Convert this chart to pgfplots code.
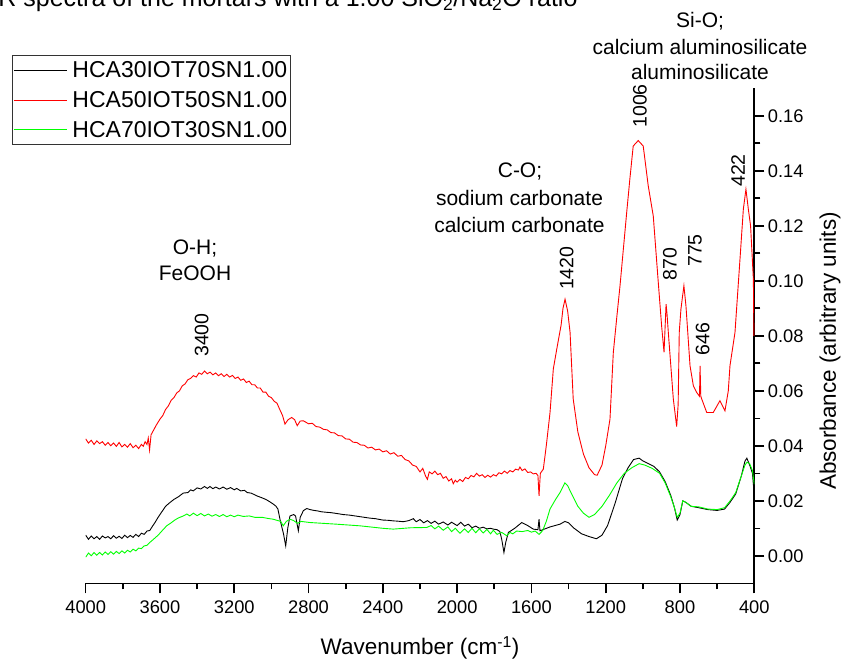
\documentclass[border=0pt]{standalone}
\usepackage{fontspec}
\setmainfont{Liberation Sans}
\usepackage{pgfplots}
\pgfplotsset{compat=1.18}
\usepackage{pgfplotstable}

\newcommand\fA{\fontsize{21}{25}\selectfont}
\newcommand\fB{\fontsize{19.5}{22}\selectfont}
\newcommand\fL{\fontsize{22.5}{26}\selectfont}
\newcommand\fT{\fontsize{18.3}{21}\selectfont}

\pgfplotstableread{
wn y
4000 0.0425
3985 0.0410
3970 0.0420
3955 0.0405
3940 0.0418
3925 0.0408
3910 0.0415
3895 0.0402
3880 0.0412
3865 0.0400
3850 0.0410
3835 0.0398
3820 0.0412
3805 0.0396
3790 0.0405
3775 0.0395
3760 0.0408
3745 0.0393
3730 0.0402
3715 0.0390
3700 0.0405
3690 0.0398
3680 0.0415
3670 0.0405
3663 0.0428
3656 0.0385
3648 0.0440
3640 0.0450
3620 0.0475
3600 0.0497
3585 0.0510
3570 0.0532
3555 0.0545
3540 0.0565
3525 0.0575
3510 0.0592
3495 0.0600
3480 0.0618
3465 0.0625
3450 0.0640
3435 0.0645
3420 0.0655
3405 0.0650
3390 0.0665
3375 0.0660
3360 0.0672
3345 0.0662
3330 0.0668
3315 0.0658
3300 0.0665
3285 0.0655
3270 0.0662
3255 0.0652
3240 0.0660
3225 0.0650
3210 0.0656
3195 0.0645
3180 0.0650
3165 0.0638
3150 0.0643
3135 0.0630
3120 0.0635
3105 0.0622
3090 0.0622
3075 0.0610
3060 0.0610
3045 0.0595
3030 0.0595
3015 0.0580
3000 0.0575
2985 0.0562
2970 0.0555
2955 0.0532
2940 0.0510
2927 0.0479
2910 0.0495
2891 0.0503
2875 0.0495
2861 0.0473
2845 0.0490
2828 0.0491
2800 0.0480
2780 0.0482
2760 0.0470
2740 0.0468
2720 0.0460
2700 0.0458
2680 0.0448
2660 0.0447
2640 0.0437
2620 0.0436
2600 0.0425
2580 0.0424
2560 0.0413
2540 0.0412
2520 0.0403
2500 0.0402
2480 0.0392
2460 0.0395
2440 0.0385
2420 0.0388
2400 0.0378
2380 0.0382
2360 0.0370
2340 0.0375
2320 0.0362
2300 0.0365
2280 0.0350
2260 0.0345
2240 0.0330
2220 0.0325
2200 0.0305
2185 0.0318
2170 0.0290
2160 0.0278
2150 0.0305
2135 0.0298
2120 0.0308
2105 0.0295
2090 0.0300
2075 0.0282
2060 0.0288
2045 0.0272
2030 0.0280
2021 0.0262
2010 0.0275
2000 0.0268
1985 0.0278
1970 0.0270
1955 0.0285
1940 0.0280
1925 0.0292
1910 0.0287
1895 0.0300
1880 0.0290
1865 0.0295
1850 0.0285
1835 0.0293
1820 0.0286
1805 0.0295
1790 0.0290
1775 0.0302
1760 0.0298
1745 0.0308
1730 0.0300
1715 0.0310
1700 0.0305
1685 0.0315
1670 0.0312
1662 0.0323
1650 0.0310
1635 0.0316
1620 0.0303
1605 0.0305
1590 0.0298
1575 0.0300
1565 0.0292
1559 0.0218
1552 0.0300
1536 0.0315
1520 0.0400
1500 0.0520
1482 0.0680
1464 0.0750
1440 0.0840
1430 0.0900
1419 0.0933
1405 0.0890
1392 0.0813
1375 0.0570
1350 0.0450
1320 0.0370
1290 0.0320
1260 0.0295
1246 0.0293
1220 0.0330
1200 0.0400
1177 0.0497
1159 0.0740
1140 0.0870
1123 0.0982
1087 0.1249
1070 0.1370
1052 0.1490
1025 0.1510
998 0.1490
971 0.1345
944 0.1236
917 0.0994
899 0.0836
886 0.0740
875 0.0915
870 0.0880
863 0.0813
836 0.0570
818 0.0470
810 0.0550
804 0.0813
795 0.0897
779 0.0982
768 0.0909
746 0.0691
728 0.0618
710 0.0594
695 0.0580
692 0.0691
688 0.0580
683 0.0570
656 0.0521
621 0.0521
585 0.0564
558 0.0527
540 0.0600
531 0.0691
504 0.0812
477 0.1079
459 0.1260
445 0.1333
432 0.1260
420 0.1200
405 0.1006
402 0.0800
}\redtab

\pgfplotstableread{
wn y
4000 0.0075
3985 0.0060
3970 0.0072
3955 0.0062
3940 0.0070
3925 0.0060
3910 0.0072
3895 0.0065
3880 0.0070
3865 0.0062
3850 0.0073
3835 0.0064
3820 0.0071
3805 0.0063
3790 0.0075
3775 0.0066
3760 0.0074
3745 0.0067
3730 0.0078
3715 0.0070
3700 0.0082
3685 0.0078
3670 0.0090
3655 0.0092
3640 0.0108
3627 0.0121
3610 0.0140
3590 0.0160
3570 0.0180
3546 0.0194
3525 0.0205
3500 0.0215
3475 0.0228
3450 0.0230
3435 0.0240
3421 0.0236
3400 0.0247
3380 0.0243
3360 0.0252
3345 0.0245
3331 0.0252
3315 0.0244
3300 0.0250
3280 0.0243
3260 0.0250
3240 0.0242
3220 0.0248
3200 0.0240
3187 0.0245
3165 0.0236
3145 0.0238
3130 0.0230
3110 0.0228
3090 0.0222
3079 0.0218
3055 0.0212
3030 0.0205
3010 0.0197
2990 0.0188
2975 0.0180
2965 0.0170
2954 0.0133
2935 0.0080
2923 0.0036
2912 0.0100
2900 0.0145
2880 0.0150
2870 0.0145
2855 0.0091
2845 0.0140
2828 0.0164
2810 0.0172
2792 0.0168
2770 0.0165
2750 0.0163
2730 0.0160
2700 0.0158
2680 0.0157
2650 0.0154
2613 0.0150
2580 0.0148
2550 0.0145
2520 0.0142
2500 0.0140
2470 0.0137
2440 0.0135
2400 0.0130
2370 0.0129
2344 0.0127
2320 0.0126
2290 0.0124
2260 0.0128
2236 0.0135
2220 0.0124
2200 0.0132
2180 0.0120
2160 0.0128
2140 0.0118
2120 0.0126
2100 0.0115
2075 0.0123
2050 0.0112
2030 0.0122
2000 0.0110
1980 0.0122
1960 0.0108
1940 0.0115
1920 0.0102
1900 0.0108
1880 0.0100
1860 0.0104
1840 0.0098
1820 0.0100
1805 0.0097
1785 0.0095
1770 0.0088
1760 0.0060
1748 0.0012
1738 0.0050
1724 0.0085
1690 0.0100
1652 0.0121
1620 0.0110
1590 0.0097
1565 0.0095
1559 0.0133
1554 0.0091
1500 0.0105
1446 0.0115
1420 0.0125
1400 0.0120
1370 0.0100
1330 0.0080
1290 0.0070
1250 0.0062
1220 0.0075
1190 0.0110
1150 0.0190
1110 0.0280
1080 0.0320
1050 0.0350
1020 0.0355
1000 0.0345
970 0.0335
940 0.0325
910 0.0305
880 0.0270
850 0.0220
830 0.0175
815 0.0130
800 0.0150
785 0.0200
770 0.0195
740 0.0180
700 0.0175
650 0.0168
600 0.0165
560 0.0170
530 0.0195
500 0.0225
470 0.0290
450 0.0345
440 0.0355
425 0.0330
410 0.0300
400 0.0220
}\blacktab

\pgfplotstableread{
wn y
4000 -0.0005
3985 0.0010
3970 0.0000
3955 0.0012
3940 0.0002
3925 0.0012
3910 0.0003
3895 0.0014
3880 0.0005
3865 0.0015
3850 0.0006
3835 0.0016
3820 0.0008
3805 0.0018
3790 0.0010
3775 0.0020
3760 0.0014
3745 0.0024
3730 0.0018
3715 0.0028
3700 0.0026
3685 0.0036
3670 0.0038
3654 0.0049
3635 0.0060
3610 0.0075
3590 0.0090
3564 0.0109
3540 0.0120
3520 0.0130
3500 0.0138
3474 0.0145
3455 0.0152
3440 0.0145
3420 0.0155
3400 0.0146
3380 0.0154
3360 0.0145
3340 0.0152
3320 0.0144
3300 0.0150
3280 0.0143
3260 0.0150
3240 0.0142
3220 0.0148
3200 0.0142
3180 0.0148
3151 0.0143
3120 0.0145
3090 0.0140
3050 0.0140
3020 0.0136
2990 0.0133
2950 0.0125
2936 0.0109
2920 0.0125
2900 0.0133
2880 0.0128
2860 0.0118
2840 0.0125
2792 0.0121
2650 0.0115
2523 0.0109
2400 0.0100
2344 0.0097
2250 0.0102
2164 0.0103
2140 0.0110
2120 0.0098
2100 0.0108
2075 0.0093
2050 0.0105
2030 0.0088
2010 0.0100
1985 0.0082
1960 0.0098
1940 0.0085
1920 0.0100
1900 0.0084
1880 0.0098
1860 0.0083
1840 0.0096
1820 0.0080
1805 0.0093
1785 0.0078
1760 0.0085
1733 0.0073
1715 0.0085
1700 0.0080
1680 0.0090
1650 0.0088
1620 0.0092
1600 0.0086
1580 0.0090
1559 0.0078
1540 0.0091
1520 0.0125
1500 0.0170
1470 0.0205
1446 0.0230
1420 0.0265
1405 0.0255
1380 0.0220
1350 0.0180
1320 0.0155
1290 0.0140
1260 0.0150
1220 0.0180
1180 0.0220
1140 0.0265
1100 0.0300
1060 0.0320
1020 0.0335
990 0.0330
950 0.0318
910 0.0300
880 0.0265
850 0.0215
830 0.0175
815 0.0140
800 0.0155
785 0.0200
770 0.0195
740 0.0180
700 0.0178
650 0.0170
600 0.0168
560 0.0175
530 0.0200
500 0.0230
470 0.0290
450 0.0330
440 0.0340
425 0.0335
410 0.0310
400 0.0260
}\greentab

\begin{document}
\begin{tikzpicture}
\begin{axis}[
  at={(0pt,0pt)}, anchor=south west,
  scale only axis, width=668.6pt, height=495pt,
  x dir=reverse, xmin=400, xmax=4000, ymin=-0.01, ymax=0.17,
  axis x line*=bottom, axis y line*=right,
  axis line style={line width=1.6pt, -},
  xtick={400,800,1200,1600,2000,2400,2800,3200,3600,4000}, minor x tick num=1,
  ytick={0,0.02,0.04,0.06,0.08,0.1,0.12,0.14,0.16}, minor y tick num=1,
  tick align=outside,
  major tick length=10pt, minor tick length=6pt,
  every tick/.style={black, line width=1.6pt},
  /pgf/number format/assume math mode=true,
  xticklabel style={font=\fT, yshift=-4pt, /pgf/number format/set thousands separator={}},
  yticklabel style={font=\fT, /pgf/number format/.cd, fixed, zerofill, precision=2},
  legend style={at={(-0.1107,1.0673)}, anchor=north west, draw=black!80, line width=1pt,
    fill=white, inner xsep=1.3pt, inner ysep=0pt, font=\fontsize{23}{27}\selectfont,
    row sep=0pt, nodes={inner xsep=2pt, inner ysep=6.1pt},
    /tikz/every odd column/.append style={column sep=3pt}},
  legend cell align=left,
  legend image code/.code={\draw[#1, line width=1pt] (0pt,0pt) -- (53pt,0pt);},
]
\addplot[black, line width=0.9pt] table[x=wn,y=y] {\blacktab};
\addlegendentry{HCA30IOT70SN1.00}
\addplot[red, line width=0.9pt] table[x=wn,y=y] {\redtab};
\addlegendentry{HCA50IOT50SN1.00}
\addplot[green, line width=0.9pt] table[x=wn,y=y] {\greentab};
\addlegendentry{HCA70IOT30SN1.00}
\end{axis}
\begin{scope}[x=1pt,y=-1pt,shift={(-85.7pt,583.3pt)}]
\node[anchor=base east, font=\fontsize{25}{29}\selectfont] at (581,7) {FTIR spectra of the mortars with a 1.00 SiO\textsubscript{2}/Na\textsubscript{2}O ratio};
\node[font=\fA] at (700,21.7) {Si-O;};
\node[font=\fA] at (700,46.7) {calcium aluminosilicate};
\node[font=\fA] at (700,71.7) {aluminosilicate};
\node[font=\fA] at (520,171.7) {C-O;};
\node[font=\fA] at (519.5,198.3) {sodium carbonate};
\node[font=\fA] at (519.5,225) {calcium carbonate};
\node[font=\fA] at (195,248.3) {O-H;};
\node[font=\fA] at (195,273.3) {FeOOH};
\node[rotate=90, font=\fB] at (201.7,335) {3400};
\node[rotate=90, font=\fB] at (566.7,268.3) {1420};
\node[rotate=90, font=\fB] at (640,106) {1006};
\node[rotate=90, font=\fB] at (670,264) {870};
\node[rotate=90, font=\fB] at (695,250.5) {775};
\node[rotate=90, font=\fB] at (702.7,339) {646};
\node[rotate=90, font=\fB] at (738,170.5) {422};
\node[rotate=90, font=\fL] at (830,351) {Absorbance (arbitrary units)};
\node[font=\fL] at (420,648) {Wavenumber (cm\textsuperscript{-1})};
\pgfresetboundingbox
\useasboundingbox (0,0) rectangle (842,661);
\end{scope}
\end{tikzpicture}
\end{document}
